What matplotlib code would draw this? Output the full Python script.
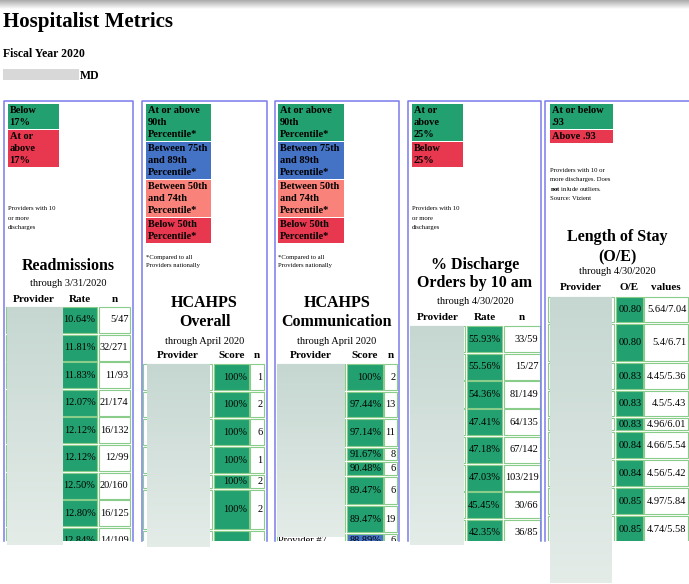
import numpy as np
import matplotlib.pyplot as plt
from matplotlib.patches import Rectangle
from matplotlib.colors import LinearSegmentedColormap

plt.rcParams['font.family'] = ['Liberation Serif', 'DejaVu Serif']
plt.rcParams['mathtext.fontset'] = 'custom'
plt.rcParams['mathtext.bf'] = 'Liberation Serif:bold'
plt.rcParams['mathtext.rm'] = 'Liberation Serif'

GREEN = '#23a06f'
RED = '#e8384f'
BLUE = '#4472c4'
SALMON = '#f9837a'
EDGE = '#8acc8a'
PANEL = '#7b7bee'
BOTTOM = 541

# --- data ---
readm_rate = [10.64, 11.81, 11.83, 12.07, 12.12, 12.12, 12.50, 12.80, 12.84]
readm_num = [5, 32, 11, 21, 16, 12, 20, 16, 14]
readm_den = [47, 271, 93, 174, 132, 99, 160, 125, 109]

overall_score = [100, 100, 100, 100, 100, 100, None]
overall_n = [1, 2, 6, 1, 2, 2, None]

comm_score = [100, 97.44, 97.14, 91.67, 90.48, 89.47, 89.47, 88.89]
comm_n = [2, 13, 11, 8, 6, 6, 19, 6]
comm_tier = ['90', '90', '90', '90', '90', '90', '90', '75']
comm_last_provider = 'Provider #7'

disch_rate = [55.93, 55.56, 54.36, 47.41, 47.18, 47.03, 45.45, 42.35]
disch_num = [33, 15, 81, 64, 67, 103, 30, 36]
disch_den = [59, 27, 149, 135, 142, 219, 66, 85]

los_oe = [0.80, 0.80, 0.83, 0.83, 0.83, 0.84, 0.84, 0.85, 0.85]
los_obs = [5.64, 5.4, 4.45, 4.5, 4.96, 4.66, 4.56, 4.97, 4.74]
los_exp = [7.04, 6.71, 5.36, 5.43, 6.01, 5.54, 5.42, 5.84, 5.58]

tier_colors = {'90': GREEN, '75': BLUE, '50': SALMON, 'low': RED}

# --- layout (pixels) ---
panels = [(4, 133), (142, 267), (275, 399), (408, 541), (545, 695)]
readm_tops = [307, 334.6, 362.2, 389.8, 417.4, 445, 472.6, 500.2, 527.8, 555.4]
overall_tops = [364, 392, 419, 447, 475, 490, 531, 570]
comm_tops = [364, 392, 419, 448, 462, 477, 506, 534, 549]
disch_tops = [326, 353.7, 381.4, 409.1, 436.8, 464.5, 492.2, 519.9, 547.6]
los_tops = [297, 324, 363, 391, 418, 432, 460, 488, 516, 544]

fig = plt.figure(figsize=(6.89, 5.84), dpi=100)
ax = fig.add_axes([0, 0, 1, 1])
ax.axis('off')


def gradient(x0, x1, y0, y1, c0, c1, z):
    cm = LinearSegmentedColormap.from_list('g', [c0, c1])
    ax.imshow(np.linspace(0, 1, 50).reshape(-1, 1), cmap=cm, aspect='auto',
              extent=(x0, x1, y1, y0), zorder=z, interpolation='bilinear')


def cell(x0, x1, top, h, fc):
    ax.add_patch(Rectangle((x0, top), x1 - x0, h, fc=fc, ec=EDGE, lw=0.8, zorder=1))


def legend(x0, x1, boxes):
    for top, bot, color, lines in boxes:
        ax.add_patch(Rectangle((x0, top), x1 - x0, bot - top, fc=color, ec='none', zorder=1))
        for i, s in enumerate(lines):
            ax.text(x0 + 1.5, top + 6.5 + 11.8 * i, s, ha='left', va='center',
                    fontsize=7.5, fontweight='bold', zorder=3)


def note(x, y, lines):
    for i, s in enumerate(lines):
        ax.text(x, y + 9 * i, s, ha='left', va='center', fontsize=4.8, zorder=3)


def titles(cx, items):
    for y, s, size, bold in items:
        ax.text(cx, y, s, ha='center', va='center', fontsize=size,
                fontweight='bold' if bold else 'normal', zorder=3)


def table(cols, tops, vals, fills, ns, head_y, heads):
    for (x0, x1), h in zip(cols, heads):
        ax.text((x0 + x1) / 2, head_y, h, ha='center', va='center',
                fontsize=8, fontweight='bold', zorder=3)
    for i in range(len(vals)):
        top = tops[i]
        h = tops[i + 1] - top - 1.6
        cell(cols[0][0], cols[0][1], top, h, 'white')
        cell(cols[1][0], cols[1][1], top, h, fills[i])
        cell(cols[2][0], cols[2][1], top, h, 'white')
        ax.text(cols[1][1] - 1.5, top + h / 2, vals[i], ha='right', va='center',
                fontsize=7.5, zorder=3)
        ax.text(cols[2][1] - 1.5, top + h / 2, ns[i], ha='right', va='center',
                fontsize=7.5, zorder=3)


# top bar and header
gradient(0, 689, 0, 9, '#aaaaaa', '#ffffff', 0)
ax.text(3, 27, 'Hospitalist Metrics', ha='left', va='baseline', fontsize=15, fontweight='bold')
ax.text(3, 57, 'Fiscal Year 2020', ha='left', va='baseline', fontsize=8.5, fontweight='bold')
ax.add_patch(Rectangle((3, 69), 76, 11, fc='#d8d8d8', ec='none'))
ax.text(80, 79, 'MD', ha='left', va='baseline', fontsize=8.5, fontweight='bold')

# panel borders
for x0, x1 in panels:
    ax.plot([x0, x0, x1, x1], [BOTTOM, 101, 101, BOTTOM], color=PANEL, lw=1.1, zorder=6)

# Readmissions
legend(8, 59, [(104, 129, GREEN, ['Below', '17%']),
               (130, 167, RED, ['At or', 'above', '17%'])])
note(8, 209, ['Providers with 10', 'or more', 'discharges'])
titles(68, [(266, 'Readmissions', 11.5, True), (283, 'through 3/31/2020', 7.5, False)])
table([(6, 61), (62, 97), (99, 130)], readm_tops,
      [f'{v:.2f}%' for v in readm_rate], [GREEN] * len(readm_rate),
      [f'{a}/{b}' for a, b in zip(readm_num, readm_den)], 299, ['Provider', 'Rate', 'n'])

# HCAHPS legends
pct_boxes = [(104, 141, GREEN, ['At or above', '90th', 'Percentile*']),
             (142, 179, BLUE, ['Between 75th', 'and 89th', 'Percentile*']),
             (180, 217, SALMON, ['Between 50th', 'and 74th', 'Percentile*']),
             (218, 243, RED, ['Below 50th', 'Percentile*'])]

# HCAHPS Overall
legend(146, 211, pct_boxes)
note(146, 257, ['*Compared to all', 'Providers nationally'])
titles(204.5, [(303, 'HCAHPS', 11.5, True), (322, 'Overall', 11.5, True),
               (341, 'through April 2020', 7.5, False)])
table([(143, 212), (214, 249), (250, 264)], overall_tops,
      ['' if v is None else f'{v:g}%' for v in overall_score], [GREEN] * len(overall_score),
      ['' if v is None else str(v) for v in overall_n], 356, ['Provider', 'Score', 'n'])

# HCAHPS Communication
legend(278, 344, pct_boxes)
note(278, 257, ['*Compared to all', 'Providers nationally'])
titles(337, [(303, 'HCAHPS', 11.5, True), (322, 'Communication', 11.5, True),
             (341, 'through April 2020', 7.5, False)])
table([(277, 345), (347, 383), (384, 397)], comm_tops,
      [f'{v:g}%' if v == 100 else f'{v:.2f}%' for v in comm_score],
      [tier_colors[t] for t in comm_tier],
      [str(v) for v in comm_n], 356, ['Provider', 'Score', 'n'])
ax.text(278, comm_tops[-2] + 6.5, comm_last_provider, ha='left', va='center', fontsize=7.5, zorder=3)

# % Discharge orders
legend(412, 463, [(104, 141, GREEN, ['At or', 'above', '25%']),
                  (142, 167, RED, ['Below', '25%'])])
note(412, 209, ['Providers with 10', 'or more', 'discharges'])
titles(475, [(265, '% Discharge', 11.5, True), (283, 'Orders by 10 am', 11.5, True),
             (301, 'through 4/30/2020', 7.5, False)])
table([(410, 465), (467, 502), (504, 540)], disch_tops,
      [f'{v:.2f}%' for v in disch_rate], [GREEN] * len(disch_rate),
      [f'{a}/{b}' for a, b in zip(disch_num, disch_den)], 317, ['Provider', 'Rate', 'n'])

# Length of stay
legend(550, 613, [(104, 129, GREEN, ['At or below', '.93']),
                  (130, 143, RED, ['Above .93'])])
note(550, 171, ['Providers with 10 or', 'more discharges. Does',
                r'$\mathbf{not}$ inlude outliers.', 'Source: Vizient'])
titles(617, [(237, 'Length of Stay', 11.5, True), (257, '(O/E)', 11.5, True),
             (272, 'through 4/30/2020', 7.5, False)])
table([(548, 614), (616, 643), (644, 688)], los_tops,
      [f'{v:05.2f}' for v in los_oe], [GREEN] * len(los_oe),
      [f'{a:g}/{b:g}' for a, b in zip(los_obs, los_exp)], 288, ['Provider', 'O/E', 'values'])

# screenshot cut-off and redactions
ax.add_patch(Rectangle((0, BOTTOM), 689, 584 - BOTTOM, fc='white', ec='none', zorder=4))
for x0, x1, y0, y1 in [(7, 63, 307, 545), (147, 210, 364, 547), (277, 345, 364, 537),
                       (410, 464, 326, 545), (550, 612, 297, 583)]:
    gradient(x0, x1, y0, y1, '#c6d7d1', '#e4ece8', 5)

ax.set_xlim(0, 689)
ax.set_ylim(584, 0)
fig.savefig('out.png', dpi=100)
